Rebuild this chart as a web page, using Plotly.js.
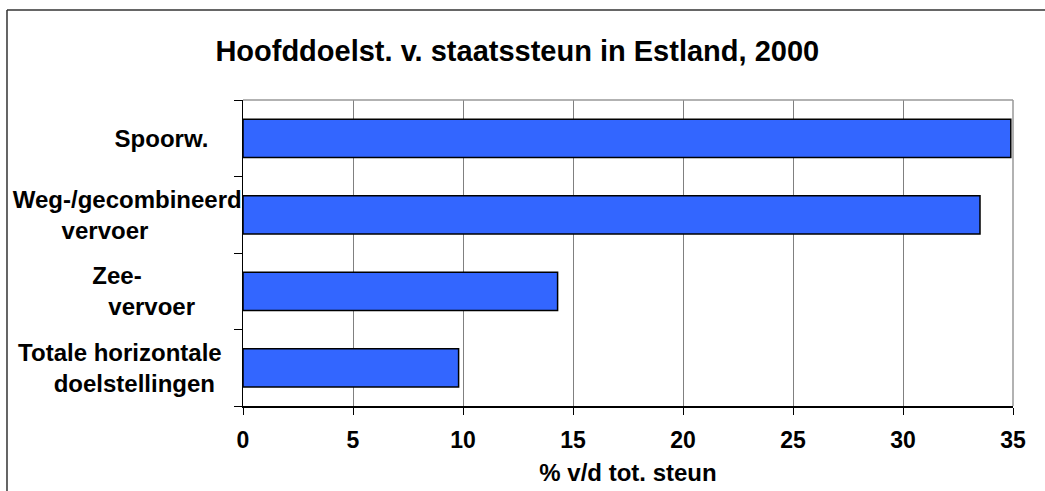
<!DOCTYPE html>
<html>
<head>
<meta charset="utf-8">
<script src="https://cdn.plot.ly/plotly-3.0.1.min.js"></script>
<style>
html,body{margin:0;padding:0;background:#fff;overflow:hidden;}
#chart{width:1045px;height:491px;}
</style>
</head>
<body>
<div id="chart"></div>
<script>
// Data
var categories = ["Spoorw.", "Weg-/gecombineerd vervoer", "Zee-vervoer", "Totale horizontale doelstellingen"];
var tickLabels = [
  "Spoorw.\u00A0\u00A0\u00A0\u00A0\u00A0",
  "Weg-/gecombineerd<br>vervoer\u00A0\u00A0\u00A0\u00A0\u00A0\u00A0\u00A0\u00A0\u00A0\u00A0\u00A0\u00A0\u00A0\u00A0",
  "Zee-\u00A0\u00A0\u00A0\u00A0\u00A0\u00A0\u00A0\u00A0\u00A0\u00A0\u00A0\u00A0\u00A0\u00A0\u00A0<br>vervoer\u00A0\u00A0\u00A0\u00A0\u00A0\u00A0\u00A0",
  "Totale horizontale\u00A0\u00A0\u00A0<br>doelstellingen\u00A0\u00A0\u00A0\u00A0"
];
var values = [34.9, 33.5, 14.3, 9.8];
var xTickVals = [0, 5, 10, 15, 20, 25, 30, 35];

var fontFam = "Liberation Sans, Arial, Helvetica, sans-serif";

var trace = {
  type: "bar",
  orientation: "h",
  y: categories,
  x: values,
  marker: {color: "#3366FF", line: {color: "#000000", width: 1.5}},
  hoverinfo: "x+y"
};

var layout = {
  width: 1045,
  height: 491,
  margin: {l: 243, r: 32, t: 100, b: 85, pad: 0},
  paper_bgcolor: "#ffffff",
  plot_bgcolor: "#ffffff",
  showlegend: false,
  bargap: 0.5,
  font: {family: fontFam, color: "#000000"},
  title: {
    text: "Hoofddoelst. v. staatssteun in Estland, 2000",
    font: {family: fontFam, size: 29, weight: "bold", color: "#000000"},
    x: 0.495, xanchor: "center", xref: "container",
    y: 0.896, yanchor: "middle", yref: "container"
  },
  xaxis: {
    range: [0, 35],
    tickmode: "array",
    tickvals: xTickVals,
    ticktext: xTickVals.map(String),
    ticks: "outside",
    ticklen: 7,
    tickwidth: 1,
    tickcolor: "#000000",
    tickfont: {family: fontFam, size: 23, weight: "bold", color: "#000000"},
    ticklabelstandoff: 6,
    showgrid: true,
    gridcolor: "#808080",
    gridwidth: 1,
    zeroline: false,
    showline: true,
    linecolor: "#000000",
    linewidth: 1.5,
    fixedrange: true,
    title: {
      text: "% v/d tot. steun",
      font: {family: fontFam, size: 24, weight: "bold", color: "#000000"},
      standoff: 12
    }
  },
  yaxis: {
    type: "category",
    autorange: "reversed",
    tickmode: "array",
    tickvals: categories,
    ticktext: tickLabels,
    ticks: "outside",
    tickson: "boundaries",
    ticklen: 8,
    tickwidth: 1,
    tickcolor: "#000000",
    tickfont: {family: fontFam, size: 24, weight: "bold", color: "#000000"},
    ticklabelstandoff: -5,
    showgrid: false,
    zeroline: false,
    showline: true,
    linecolor: "#000000",
    linewidth: 1.5,
    fixedrange: true
  },
  shapes: [
    {type: "line", xref: "paper", yref: "paper", x0: 0, x1: 1, y0: 1, y1: 1,
     line: {color: "#999999", width: 1.5}, layer: "above"},
    {type: "line", xref: "paper", yref: "paper", x0: 1, x1: 1, y0: 0, y1: 1,
     line: {color: "#999999", width: 1.5}, layer: "above"},
    {type: "line", xref: "paper", yref: "paper", x0: -0.3065, x1: 1.3, y0: 1.294, y1: 1.294,
     line: {color: "#333333", width: 1.5}, layer: "below"},
    {type: "line", xref: "paper", yref: "paper", x0: -0.3065, x1: -0.3065, y0: -0.5, y1: 1.294,
     line: {color: "#333333", width: 1.5}, layer: "below"}
  ]
};

Plotly.newPlot("chart", [trace], layout, {displayModeBar: false, staticPlot: true});
</script>
</body>
</html>
